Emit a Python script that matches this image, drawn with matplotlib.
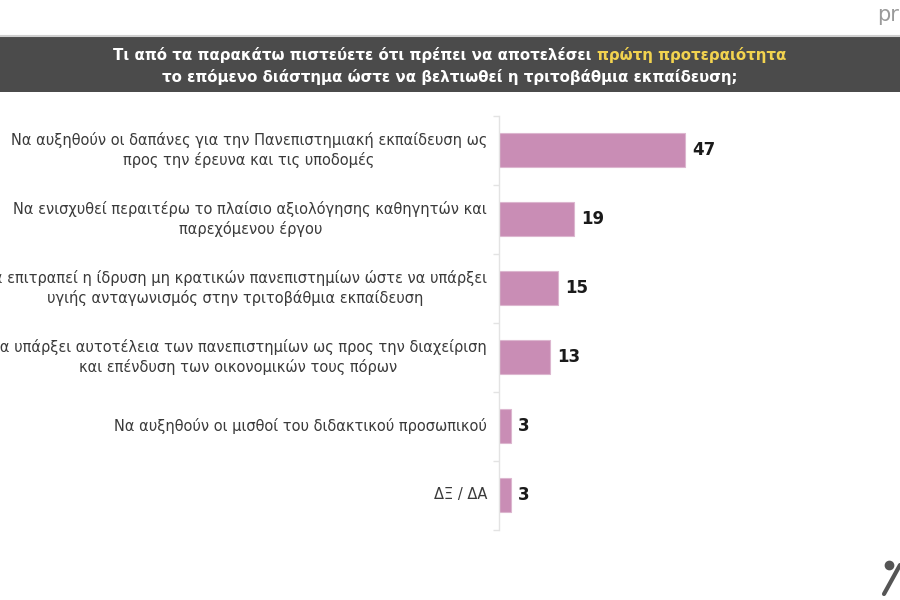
import matplotlib
matplotlib.use('Agg')
import matplotlib.pyplot as plt
from matplotlib.patches import Rectangle
from matplotlib.lines import Line2D

categories = [
    'Να αυξηθούν οι δαπάνες για την Πανεπιστημιακή εκπαίδευση ως\nπρος την έρευνα και τις υποδομές',
    'Να ενισχυθεί περαιτέρω το πλαίσιο αξιολόγησης καθηγητών και\nπαρεχόμενου έργου',
    'Να επιτραπεί η ίδρυση μη κρατικών πανεπιστημίων ώστε να υπάρξει\nυγιής ανταγωνισμός στην τριτοβάθμια εκπαίδευση',
    'Να υπάρξει αυτοτέλεια των πανεπιστημίων ως προς την διαχείριση\nκαι επένδυση των οικονομικών τους πόρων',
    'Να αυξηθούν οι μισθοί του διδακτικού προσωπικού',
    'ΔΞ / ΔΑ',
]
values = [47, 19, 15, 13, 3, 3]

title_white = 'Τι από τα παρακάτω πιστεύετε ότι πρέπει να αποτελέσει '
title_yellow = 'πρώτη προτεραιότητα'
title_line2 = 'το επόμενο διάστημα ώστε να βελτιωθεί η τριτοβάθμια εκπαίδευση;'

bar_color = '#c98db5'
plt.rcParams['font.family'] = ['DejaVu Sans']

fig = plt.figure(figsize=(9, 6), dpi=100)
fig.patch.set_facecolor('white')

# header band
fig.add_artist(Rectangle((0, 1 - 92 / 600), 1, 55 / 600, transform=fig.transFigure,
                         facecolor='#4b4b4b', edgecolor='none'))
fig.add_artist(Line2D([0, 1], [1 - 36 / 600] * 2, transform=fig.transFigure,
                      color='#cfcfcf', lw=1.5))

ax = fig.add_axes([499 / 900, 1 - 529.5 / 600, 396 / 900, 414 / 600])
y = list(range(len(values)))
bars = ax.barh(y, values, height=0.5, color=bar_color, edgecolor='#dcb6cf', lw=0.8)
ax.set_xlim(0, 100)
ax.set_ylim(len(values) - 0.5, -0.5)
for s in ['top', 'right', 'bottom']:
    ax.spines[s].set_visible(False)
ax.spines['left'].set_color('#e3e3e3')
ax.spines['left'].set_linewidth(1)
ax.set_xticks([])
ax.set_yticks([i + 0.5 for i in range(-1, len(values))])
ax.set_yticklabels([])
ax.tick_params(axis='y', length=4, color='#e3e3e3', width=1)

for i, (v, lab) in enumerate(zip(values, categories)):
    ax.text(v + 1.8, i, str(v), va='center', ha='left', fontsize=12,
            fontweight='bold', color='#1a1a1a')
    ax.annotate(lab, xy=(0, i), xycoords='data', xytext=(-8.5, 0),
                textcoords='offset points', ha='right', va='center',
                multialignment='center', fontsize=10.5, color='#3a3a3a',
                linespacing=1.25, annotation_clip=False)

# title with highlighted words
fig.canvas.draw()
r = fig.canvas.get_renderer()
fs = 10.8
t1 = fig.text(0, 1 - 55 / 600, title_white, fontsize=fs, color='white',
              fontweight='bold', va='center', ha='left')
t2 = fig.text(0, 1 - 55 / 600, title_yellow, fontsize=fs, color='#f2d34f',
              fontweight='bold', va='center', ha='left')
w1 = t1.get_window_extent(r).width
w2 = t2.get_window_extent(r).width
x0 = (900 - w1 - w2) / 2 / 900
t1.set_x(x0)
t2.set_x(x0 + w1 / 900)
fig.text(0.5, 1 - 77 / 600, title_line2, fontsize=fs, color='white',
         fontweight='bold', va='center', ha='center')

# logo fragments
fig.text(877 / 900, 1 - 15 / 600, 'pr', fontsize=15, color='#9a9a9a',
         va='center', ha='left')
fig.add_artist(Line2D([889 / 900], [1 - 565 / 600], transform=fig.transFigure,
                      marker='o', markersize=6, color='#555555', lw=0))
fig.add_artist(Line2D([884 / 900, 900 / 900], [1 - 594 / 600, 1 - 565 / 600],
                      transform=fig.transFigure, color='#555555', lw=3,
                      solid_capstyle='round'))

fig.savefig('out.png', dpi=100)
